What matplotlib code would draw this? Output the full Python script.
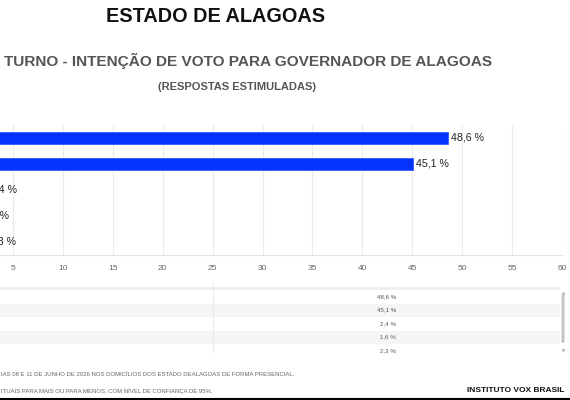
import numpy as np
import matplotlib.pyplot as plt
from matplotlib.patches import Rectangle, FancyBboxPatch

plt.rcParams['font.family'] = ['Liberation Sans', 'DejaVu Sans']

# valores (rotulos dos candidatos ficam fora do recorte)
values = [48.6, 45.1, 2.4, 1.6, 2.3]
xticks = list(range(5, 61, 5))
title = "ESTADO DE ALAGOAS"
subtitle = "TURNO - INTENÇÃO DE VOTO PARA GOVERNADOR DE ALAGOAS"
subtitle2 = "(RESPOSTAS ESTIMULADAS)"
note1 = "IAS 08 E 11 DE JUNHO DE 2026 NOS DOMICÍLIOS DOS ESTADO DEALAGOAS DE FORMA PRESENCIAL."
note2 = "ITUAIS PARA MAIS OU PARA MENOS, COM NÍVEL DE CONFIANÇA DE 95%."
source = "INSTITUTO VOX BRASIL"

def fmt(v):
    return ("%.1f %%" % v).replace(".", ",")

W, H = 570, 400
fig = plt.figure(figsize=(5.7, 4), dpi=100)

# grafico de barras (o eixo comeca antes da borda esquerda, como no recorte)
ax = fig.add_axes([-36.9 / W, 1 - 255 / H, 598.9 / W, 130 / H])
pos = np.arange(len(values))
ax.barh(pos, values, height=0.45, color='#0433ff', edgecolor='#2f5bff', lw=0.6, zorder=3)
for i, v in enumerate(values):
    ax.text(v + 0.25, i, fmt(v), va='center', ha='left', fontsize=7.7, color='#222')
ax.set_xlim(0, 60)
ax.set_ylim(len(values) - 0.5, -0.5)
ax.set_xticks(xticks)
ax.set_yticks([])
ax.xaxis.grid(True, color='#ebebeb', lw=0.8, zorder=0)
ax.set_axisbelow(True)
for s in ['top', 'right', 'left']:
    ax.spines[s].set_visible(False)
ax.spines['bottom'].set_color('#e2e2e2')
ax.tick_params(axis='x', length=0, labelsize=6, colors='#666', pad=7)

# camada em pixels para textos e tabela
o = fig.add_axes([0, 0, 1, 1])
o.set_xlim(0, W)
o.set_ylim(H, 0)
o.axis('off')
o.patch.set_alpha(0)

o.text(216, 16.7, title, ha='center', va='center', fontsize=14.3, weight='bold', color='#111')
o.text(4, 60.5, subtitle, ha='left', va='center', fontsize=11.1, weight='bold', color='#555')
o.text(237, 86.5, subtitle2, ha='center', va='center', fontsize=8.0, weight='bold', color='#555')

# tabela
row_top, row_h = 290, 13.5
o.add_patch(Rectangle((0, 287), 560, 3, color='#efefef', lw=0))
for i, v in enumerate(values):
    y0 = row_top + i * row_h
    if i % 2 == 1:
        o.add_patch(Rectangle((0, y0), 560, row_h, color='#f5f5f5', lw=0))
    o.text(396, y0 + row_h / 2, fmt(v), ha='right', va='center', fontsize=4.4, color='#555')
o.plot([213.3, 213.3], [283, 352], color='#e6e6e6', lw=0.6)
o.add_patch(FancyBboxPatch((561.5, 295), 3, 48, boxstyle='round,pad=0,rounding_size=1.3',
                           color='#c4c4c4', lw=0))
o.plot([563], [292.5], marker='^', ms=1.5, color='#bbb')
o.plot([563], [350], marker='v', ms=1.5, color='#bbb')

# rodape
o.text(1, 374.5, note1, ha='left', va='center', fontsize=4.3, color='#666')
o.text(1, 390.5, note2, ha='left', va='center', fontsize=4.3, color='#666')
o.text(564, 390.5, source, ha='right', va='center', fontsize=6, weight='bold', color='#111')
o.plot([0, W], [399.3, 399.3], color='k', lw=1.5)

fig.savefig('out.png', dpi=100)
